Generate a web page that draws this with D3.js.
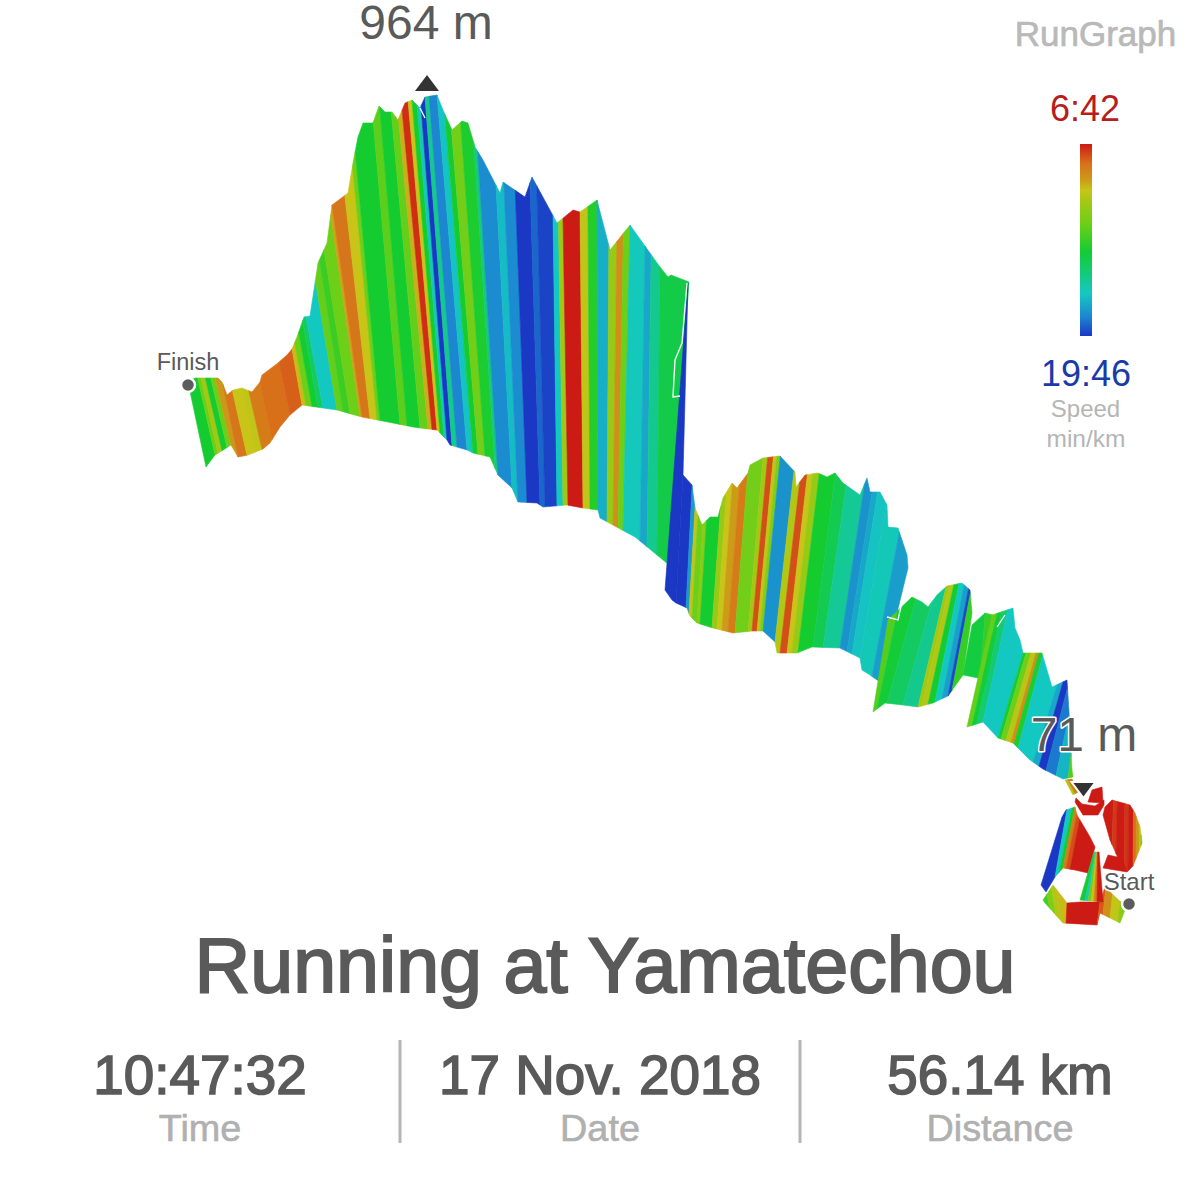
<!DOCTYPE html>
<html><head><meta charset="utf-8">
<style>html,body{margin:0;background:#fff}svg{display:block}text{font-family:"Liberation Sans",Arial,sans-serif}</style>
<script src="https://cdn.jsdelivr.net/npm/d3@7"></script></head><body>
<svg id="c" width="1200" height="1200"></svg>
<script>
// Ribbon sections, each one a sub-list; units are hectometres east / south on the projected map
const sectionNames=["west","cliff","middle","hump","fold","east","tip","loopFan","loopBase","loopInner","loopRight","loopCurl","loopBlob","loopTail"];
const routeEast=[
[103,107.5,115.5,119,124,131.5,135,140,145,151,168.5,181,196.5,206.5,218.5,223.5,225,233.5,236.5,245,249,256,259,268.5,271.5,283.5,291.5,299,300,317.5,334],
[332.5,336,338],
[338,343.5,345,348.5,356.5,366.5,376,381.5,387.5,388.5,398.5,406,420,430,431,435,440],
[436.5,442.5,451.5,459,466.5,474,481.5],
[481.5,489,495],
[483.5,491.5,499,506.5,515,521.5,531.5,536.5],
[536.5,539],
[520.5,523,527.5,531.5,537.5,544],
[522.5,531.5,548.5,550,560,562.5],
[540,551.5],
[551.5,555,559,563.5,566.5,571],
[537.5,541.5,549,552],
[544,551.5],
[551.5,563.5]];
const routeSouth=[
[233.5,227.5,222.5,228.5,227.5,224.5,221.5,213.5,207.5,202.5,205,208.5,211.5,213.5,215,220,222.5,225,226.5,228.5,237.5,244,251,251.5,253.5,252.5,254,255,259,268.5,282],
[295,300,301.5],
[301.5,304,308,311.5,314,316.5,315.5,315.5,321,326.5,326.5,323.5,324,329,335,337.5,341],
[356,351.5,352.5,353.5,351.5,348,337.5],
[337.5,339,345],
[363.5,361,369,371.5,380,384.5,389.5,388.5],
[397.5,396],
[442.5,446,438.5,434,435,436.5],
[451.5,461.5,462.5,456.5,461.5,455],
[450,451],
[407.5,420,429,436,433,421.5],
[401,407.5,407.5,402.5],
[401,401.5],
[434,436]];
const ridgeEast=[
[94,97.5,109,111,113.5,116.5,121,126,130,131,139,143.5,146,148.5,152,155,159,163.5,166,174,176.5,179,181.5,186.5,189.5,192.5,196,199,202.5,206,210,212.5,218.5,221.5,226,231,234,237.5,241.5,250,251.5,262.5,266,278.5,286.5,290,298.5,305,315,330,334,335.5,344.5],
[344,341.5],
[341.5,346,347.5,351,355,359,361.5,366,368.5,374,375,381.5,390,397.5,398,402.5,409,413.5,417.5,421.5,430,433.5,435,440,443.5,444,449,453.5,454],
[444,456,461,464,468.5,473.5,481,485,486],
[486,492.5,496.5],
[496,506.5,507.5,510,511.5,521,526,533.5,534.5,536],
[532.5,536],
[531,533,537.5,538.5,545,547.5],
[521.5,526.5,533.5,540,550,552.5,563.5],
[547,549.5],
[552.5,556,565,567.5,570,571],
[538,541,547.5,552],
[546,551],
[554,561]];
const ridgeSouth=[
[191,189,189,191,197.5,195,194,196,191,187.5,181.5,177.5,174.5,168.5,158.5,158,131.5,121.5,102.5,96.5,81.5,68.5,61.5,61.5,53,56,56,60,51.5,50,54,48.5,47.5,55,65,60.5,61.5,73.5,80,96.5,91,98.5,88.5,111.5,105,106,100,125,112.5,133.5,138.5,137.5,141],
[141.5,237.5],
[237.5,242.5,254,262.5,258.5,258.5,249,241.5,244,236.5,232.5,229,228,236,243.5,237.5,236.5,238.5,236.5,241.5,247.5,239,246,246,252.5,263.5,264,277.5,284],
[310,298.5,301,303.5,297.5,293,291.5,295,306.5],
[312.5,306.5,307.5],
[307.5,304,314,320,326.5,326.5,343.5,340,356,385],
[390,389.5],
[408.5,405,403.5,407.5,418.5,423.5],
[450,442.5,451.5,451,451,443.5,454],
[426,426],
[403.5,400,402.5,406.5,413.5,421],
[399,402,403,400],
[395,393.5],
[427.5,429]];
// matching stripe ends on the route and on the ridge
const tieRoute=[
[103,151,181,186,216.5,223.5,233.5,262.5,270,278.5,284,291.5,299,311.5,328.5,334],
[332.5,338],
[338,343.5,348.5,377,391,422.5,440],
[436.5,441.5,460,475,481.5],
[481.5,495],
[483.5,504,521.5,536.5],
[536.5,539],
[520.5,527.5,529.5,531.5,534,544],
[522.5,531,533,548.5,562.5],
[540,551.5],
[551.5,571],
[537.5,552],
[544,551.5],
[551.5,563.5]];
const tieRidge=[
[94,146,166,174,201.5,210.5,218.5,256.5,265,276.5,281.5,290,298.5,315,330,344.5],
[344,341.5],
[341.5,346.5,351.5,385,401,435,454],
[444,456,474,485,486],
[486,496.5],
[496,516.5,533.5,536],
[532.5,536],
[531,533.5,536,537.5,539,547.5],
[521.5,528,533.5,550,563.5],
[547,549.5],
[552.5,571],
[538,552],
[546,551],
[554,561]];
// pace stripes: edges along the route, pace in seconds per km between consecutive edges
const bandEdge=[
[103,107.5,109,111,113.5,115.5,119,123.5,127.5,131,136,145,151,153,156,159,161.5,168.5,171.5,175,180,181,185,188.5,190,200,203.5,210,214,216,218.5,220,222,223.5,226,228.5,233.5,236.5,239,242.5,247.5,249,256,259,263.5,270,272.5,278.5,281.5,284,291.5,295,299,303.5,306.5,309,311.5,320,323.5,328.5,334],
[332.5,338],
[338,343,344.5,346,348.5,350,356,358.5,361,364,367.5,374,376,378.5,380,381.5,387.5,390,393.5,396,399,406.5,411.5,420,423.5,426,430,436,440],
[436.5,438.5,443.5,451.5,459,461,464,467.5,471,474,476,481.5],
[481.5,490,495],
[483.5,486,488.5,491.5,499,500.5,503,505.5,507,509,516.5,519.5,523,528,534,536.5],
[536.5,537.5,539],
[520.5,527.5,529.5,531.5,533,535,544],
[522.5,525,528,531,533,548.5,551.5,555,559,562.5],
[540,542.5,544,545.5,547,548.5,551.5],
[551.5,556,558,562,564,566.5,568,569.5,570.5,571],
[537.5,552],
[544,551.5],
[551.5,563.5]];
const bandPace=[
[840,730,640,840,730,545,490,590,600,500,480,465,580,730,840,900,1013,740,790,730,560,490,590,730,840,750,840,740,570,420,590,840,1000,1186,950,1108,1020,840,720,830,930,1100,1030,1100,1186,1140,1175,1013,650,402,600,820,1050,660,530,730,1005,1060,950,870],
[1186],
[1186,1080,600,730,680,840,660,590,550,500,720,640,450,600,700,1090,620,450,590,660,840,880,960,1090,1060,1020,1000,1075],
[760,850,900,950,640,620,840,1013,1070,1170,800],
[860,800],
[740,850,920,1013,850,730,610,530,830,1013,1060,1186,1120,1040,760],
[620,500],
[1186,1013,840,500,450,402],
[780,700,620,580,402,460,530,600,680],
[840,1013,730,600,500,402],
[402,430,402,425,402,480,540,610,720],
[402],
[402],
[402]];
// thin white seams where the ribbon folds over itself
const seamEast=[[343.5,341,337.5,336.5,340],[454,449,443.5],[502.5,498.5],[210,212.5]];
const seamSouth=[[141.5,171.5,180,198.5,198],[287.5,310,308.5],[307.5,313.5],[54,59]];
// pace colour ramp
const paceStops=[402,480,551,590,637,730,841,1013,1108,1186];
const paceColors=["#cc1a14","#d8701a","#cc9c18","#c8c418","#a4c814","#6ccf18","#14cc30","#14c8c2","#1c86d0","#1a38c4"];
// labels
const paceFast="6:42",paceSlow="19:46",fastSeconds=402,slowSeconds=1186;
const markerNames=["Finish","Start"],markerEast=[94,564.5],markerSouth=[192.5,452];
const peakElevation=964,lowElevation=71;
const extremeEast=[213.5,541.75],extremeSouth=[45.5,391];
const title="Running at Yamatechou";
const statValues=["10:47:32","17 Nov. 2018","56.14 km"],statNames=["Time","Date","Distance"];

const x=d3.scaleLinear().domain([0,600]).range([0,1200]);
const y=d3.scaleLinear().domain([0,600]).range([0,1200]);
const pace=d3.scaleLinear().domain(paceStops).range(paceColors);
const svg=d3.select("#c");
const between=(xs,ys,a,b)=>{const lo=Math.min(a,b),hi=Math.max(a,b);
  const r=[];xs.forEach((v,i)=>{if(v>lo&&v<hi)r.push([v,ys[i]]);});
  r.sort((p,q)=>a<b?p[0]-q[0]:q[0]-p[0]);return r;};
const pathLine=d3.line().x(d=>x(d[0])).y(d=>y(d[1]));
const ribbon=svg.append("g");
sectionNames.forEach((name,s)=>{
  const rS=d3.scaleLinear().domain(routeEast[s]).range(routeSouth[s]);
  const tS=d3.scaleLinear().domain(ridgeEast[s]).range(ridgeSouth[s]);
  const tie=d3.scaleLinear().domain(tieRoute[s]).range(tieRidge[s]);
  const stripes=bandPace[s].map((p,i)=>{
    const b0=bandEdge[s][i],b1=bandEdge[s][i+1],t0=tie(b0),t1=tie(b1);
    const pts=[[t0,tS(t0)],...between(ridgeEast[s],ridgeSouth[s],t0,t1),[t1,tS(t1)],
      [b1,rS(b1)],...between(routeEast[s],routeSouth[s],b1,b0),[b0,rS(b0)]];
    return {p,pts};
  });
  ribbon.append("g").attr("class",name).selectAll("path").data(stripes).join("path")
    .attr("d",d=>pathLine(d.pts)+"Z")
    .attr("fill",d=>pace(d.p)).attr("stroke",d=>pace(d.p)).attr("stroke-width",0.6).attr("stroke-linejoin","round");
});
seamEast.forEach((e,i)=>{
  svg.append("path").attr("d",pathLine(e.map((v,j)=>[v,seamSouth[i][j]])))
    .attr("fill","none").attr("stroke","#fff").attr("stroke-width",1.3);
});

const txt=(s,px,py,size,fill,extra)=>{const t=svg.append("text").text(s).attr("x",px).attr("y",py)
  .attr("text-anchor","middle").attr("font-size",size).attr("fill",fill);
  if(extra)extra(t);return t;};
const halo=w=>t=>t.attr("stroke","#fff").attr("stroke-width",w).attr("paint-order","stroke").attr("stroke-linejoin","round");

// extreme markers
svg.append("path").attr("d","M-12,0L12,0L0,-16Z").attr("fill","#333")
  .attr("transform",`translate(${x(extremeEast[0])},${y(extremeSouth[0])})`);
svg.append("path").attr("d","M-12,0L12,0L0,16Z").attr("fill","#333").attr("stroke","#fff").attr("stroke-width",2)
  .attr("transform",`translate(${x(extremeEast[1])},${y(extremeSouth[1])})`);
txt(peakElevation+" m",426,39,48,"#5a5a5a");
txt(lowElevation+" m",1084,751,48,"#5a5a5a",halo(3));

// finish and start
markerNames.forEach((n,i)=>{
  svg.append("circle").attr("cx",x(markerEast[i])).attr("cy",y(markerSouth[i])).attr("r",7)
    .attr("fill","#5c5c5c").attr("stroke","#fff").attr("stroke-width",2.5);
});
txt(markerNames[0],188,370,23.5,"#5a5a5a");
txt(markerNames[1],1129,890,24,"#5a5a5a",halo(3));

// brand and legend
txt("RunGraph",1095.5,46,35,"#b9b9b9",t=>t.attr("stroke","#b9b9b9").attr("stroke-width",0.7));
txt(paceFast,1085,121,36,"#b81c1c");
txt(paceSlow,1086,386,36,"#1a3aa8");
txt("Speed",1085.5,417,24,"#b5b5b5");
txt("min/km",1086,447,24.5,"#b5b5b5");
const grad=svg.append("defs").append("linearGradient").attr("id","ramp").attr("x1",0).attr("x2",0).attr("y1",0).attr("y2",1);
paceStops.forEach(v=>grad.append("stop").attr("offset",(v-fastSeconds)/(slowSeconds-fastSeconds)).attr("stop-color",pace(v)));
svg.append("rect").attr("x",1080).attr("y",144).attr("width",12).attr("height",192).attr("fill","url(#ramp)");

// title and stats
txt(title,605,992,77.2,"#5a5a5a",t=>t.attr("stroke","#5a5a5a").attr("stroke-width",2));
[200,600,1000].forEach((cx,i)=>{
  txt(statValues[i],cx,1094,54.8,"#5a5a5a",t=>t.attr("stroke","#5a5a5a").attr("stroke-width",1.6));
  txt(statNames[i],cx,1141,37.8,"#b0b0b0",t=>t.attr("stroke","#b0b0b0").attr("stroke-width",0.6));
});
[400,800].forEach(sx=>svg.append("line").attr("x1",sx).attr("x2",sx).attr("y1",1040).attr("y2",1143).attr("stroke","#b5b5b5").attr("stroke-width",3));
</script></body></html>
